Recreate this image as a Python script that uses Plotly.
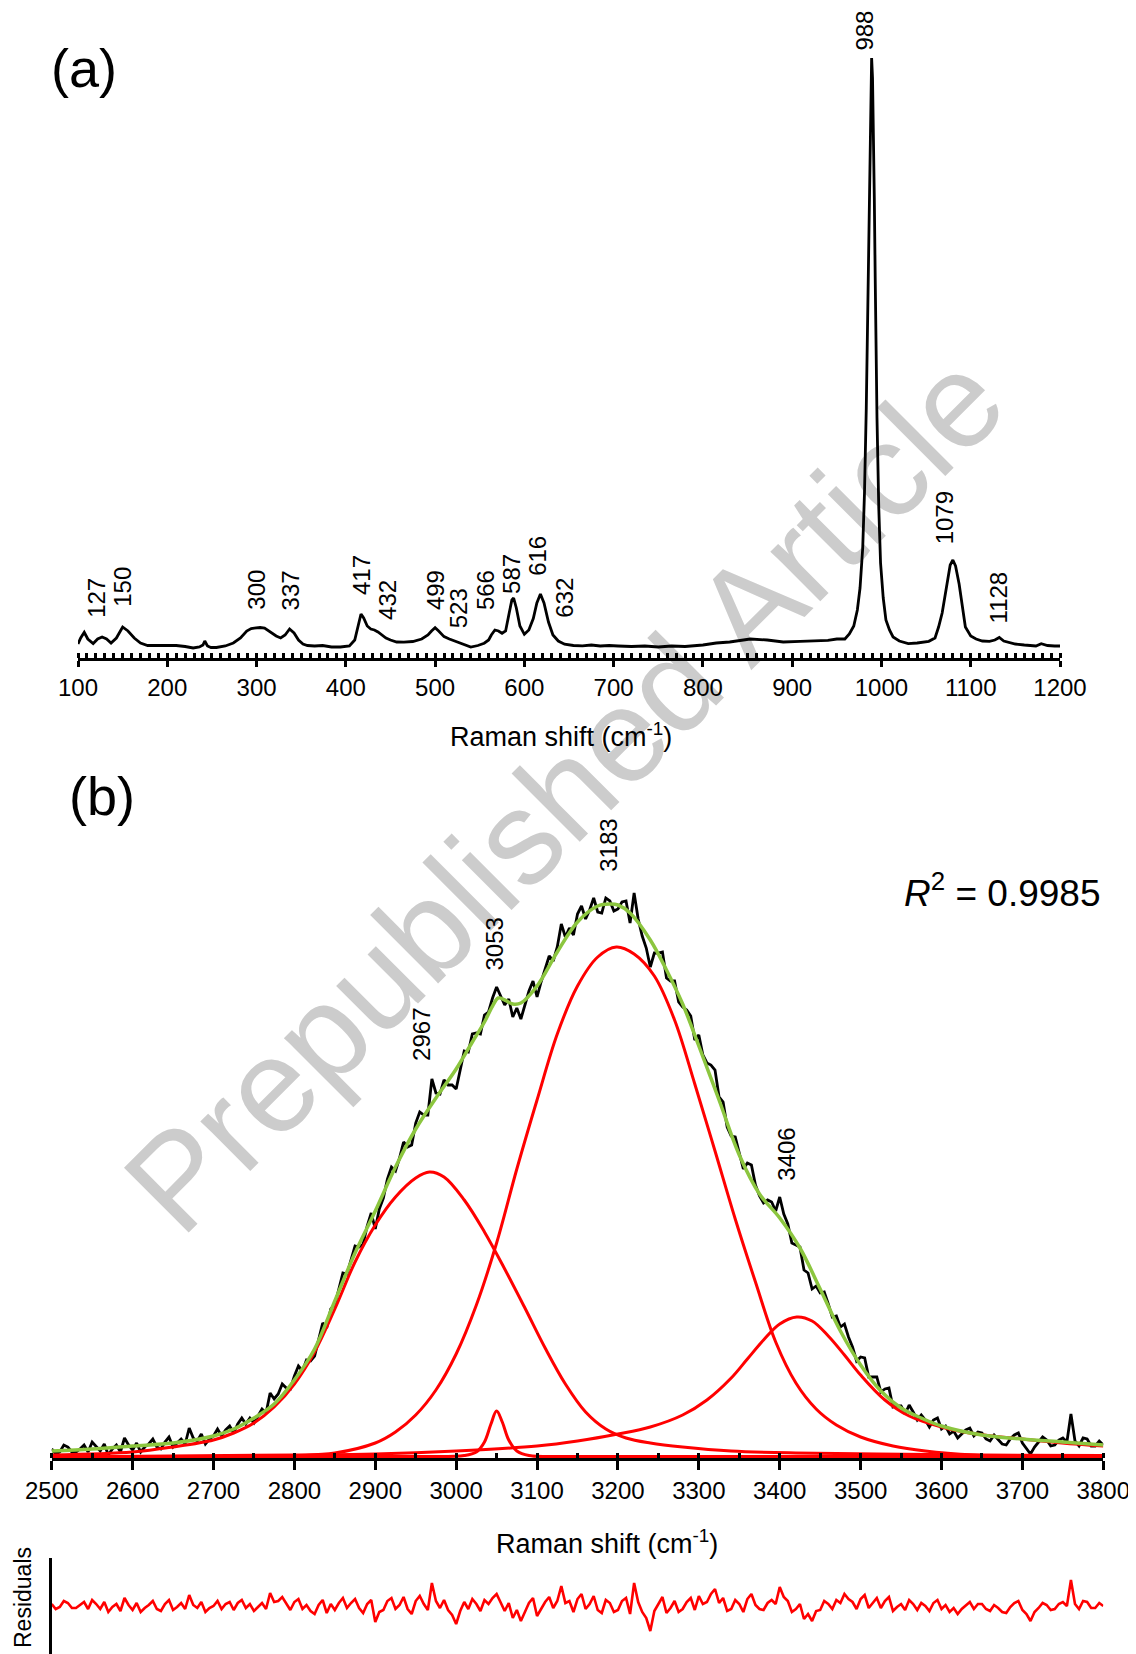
import plotly.graph_objects as go

FONT = "Liberation Sans, Arial, sans-serif"
OFF = 8                      # default page margin of the html body
W, H = 1136 - OFF, 1654 - OFF

# ---------------- Panel (a): low-wavenumber Raman spectrum ----------------
a_shift = [100,103,107,111,117,122,127,132,137,143,150,156,163,170,178,190,200,210,220,229,
           236,240,242,245,249,255,265,274,282,289,294,299,304,309,317,322,327,332,337,342,
           347,352,357,365,374,384,394,404,410,414,417,420,424,428,432,436,440,445,450,457,
           465,475,485,492,496,500,504,510,516,522,530,540,548,555,560,563,567,571,575,579,
           583,586,588,591,595,600,605,610,614,618,622,627,632,638,645,655,665,675,685,695,
           705,720,735,750,765,780,800,815,830,853,872,890,909,925,940,950,959,964,969,973,
           976,979,981,983,984,985,986,987,988,989,990,991,992,993,994,995,997,999,1002,1005,
           1009,1013,1020,1030,1040,1053,1060,1064,1068,1071,1074,1077,1080,1083,1087,1090,1094,1100,1106,1113,
           1121,1127,1132,1137,1143,1150,1160,1173,1179,1186,1194,1200]
a_int = [14,20,25.7,19,14.5,19,21,19,15,20,31,27,20,15,12.5,12.5,12,12.5,11.5,10,
         11,13,17,12,10.5,10.5,12,15,20,27,29.5,30,30.5,30,24.7,22,20,23,29,25,
         18,14,12.5,12,12.5,11,11,12,18,34,44,40,32,29,28,26,23,20,18,16,
         15.8,16.5,19,23,27,30.3,27,21.4,19,17,15,11,12.5,14.8,18,23,28,27,24.7,27,
         45,58,60,50,32,23.7,28,39.5,55,64,55,36,23,17,13.8,12.5,12.2,13,12,12.5,
         12,11.5,12,11,12,11.5,13,15,16,19,18,16,16.7,17,17.6,19,19,24,32,48,
         70,110,165,250,310,380,460,530,580,600,580,530,460,380,300,240,150,95,60,38,
         28,21,17,14.3,15,16.7,20,31,45,60,79,93,98,92,74,55,31,22,19,17,
         16.7,18,20.5,17,15.7,14,13,12,14.3,12.5,12,12]

a_labels = ["127","150","300","337","417","432","499","523","566","587","616","632","988","1079","1128"]
a_label_x = [120,149,299,338,417,446,500,526,556,585,614,644,980,1071,1131]
a_label_y = [38,49,46,46,61,36,46,28,46,62,80,38,605,112,33]

# ---------------- Panel (b): O-H stretching region with fit ----------------
b_shift = list(range(2500, 3801, 5))
b_int = [13,8,10,17,15,10,10,13,17,10,20,15,11,18,7,13,17,10,24,17,
         12,19,10,15,18,23,15,13,20,25,15,19,23,18,34,24,21,28,18,23,
         26,33,26,32,36,29,38,44,38,44,39,46,53,49,69,63,68,78,74,73,
         86,96,91,102,101,106,124,139,134,153,157,174,189,188,202,216,215,218,236,249,
         233,253,264,283,295,291,304,320,315,317,339,350,347,347,383,369,368,382,377,377,
         373,394,411,410,428,429,428,447,450,464,475,466,457,463,445,454,443,457,471,481,
         465,480,494,506,501,515,538,525,534,527,548,556,543,552,564,550,549,564,561,551,
         553,560,561,539,569,543,526,514,495,509,509,510,484,481,481,460,455,452,446,422,
         427,407,399,397,392,365,360,335,326,325,309,293,299,297,277,266,259,262,260,251,
         265,248,238,219,217,215,192,189,173,176,169,170,158,145,146,135,138,125,115,101,
         105,104,85,85,85,70,73,74,55,56,56,48,57,50,42,47,42,35,42,44,
         33,36,28,31,24,28,32,34,26,30,29,23,21,27,23,18,17,23,27,29,
         19,14,8,15,20,25,22,16,17,22,24,20,48,21,16,24,23,16,16,21,
         17]

fit_shift = [2500,2550,2600,2650,2700,2725,2750,2775,2800,2825,2850,2875,2900,2925,2950,2975,3000,3020,3035,3045,
             3052,3060,3070,3080,3100,3125,3150,3175,3190,3200,3215,3240,3260,3280,3300,3325,3350,3375,3400,3425,
             3450,3475,3500,3525,3550,3575,3600,3650,3700,3750,3800]
fit_int = [11,13,16,19,26,33,44,58,82,113,161,209,251,295,333,364,393,420,440,456,
           464,462,458,459,476,510,540,556,558,557,549,522,492,458,416,362,307,268,244,214,
           173,131,97,71,54,44,36,27,23,20,17]

c1_shift = [2500,2600,2650,2700,2725,2750,2775,2800,2825,2850,2875,2900,2925,2950,2967,2985,3010,3035,3060,3085,
            3110,3135,3160,3185,3210,3240,3280,3340,3420,3520,3650,3800]
c1_int = [7,10,15,22,29,39,55,78,110,153,200,237,265,284,290,285,262,230,193,154,
          114,78,50,33,24,19,15,11,9,8,7,6.5]

c2_shift = [2500,2950,3010,3025,3035,3043,3050,3057,3065,3075,3090,3150,3800]
c2_int = [5.5,5.5,6.5,10,20,38,51,40,22,11,6.5,5.5,5.5]

c3_shift = [2500,2700,2800,2850,2900,2925,2950,2975,3000,3025,3050,3075,3100,3125,3150,3175,3198,3220,3245,3270,
            3295,3320,3345,3370,3395,3420,3445,3470,3500,3540,3580,3640,3720,3800]
c3_int = [4,5,6.5,9,19,30,47,72,108,157,219,293,362,428,476,505,515,508,486,442,
          378,311,243,180,120,79,53,37,25,16,11,7,5,4]

c4_shift = [2500,2800,2900,3000,3100,3150,3200,3240,3280,3310,3340,3360,3380,3400,3421,3440,3460,3480,3500,3530,
            3560,3600,3643,3700,3749,3800]
c4_int = [5,7,8,11,16,21,28,35,47,62,84,103,122,138,145,141,126,107,87,62,
          46,35,28,23,19,16]

b_labels = ["2967","3053","3183","3406"]
b_label_x = [2957,3048,3188,3408]
b_label_y = [399,490,588,279]

# ---------------- Residuals ----------------
res_shift = list(range(2500, 3801, 5))
res_val = [2,-3,-1,5,3,-2,-2,1,4,-3,6,2,-3,4,-6,-1,2,-5,8,1,
           -4,3,-6,-2,1,5,-3,-5,2,6,-4,-1,3,-3,11,1,-2,4,-6,-2,
           0,5,-3,2,4,-4,3,6,-2,2,-5,-1,3,-3,13,4,5,9,2,-4,
           4,7,-3,1,-5,-8,1,6,-7,2,-4,3,8,-2,3,7,-2,-7,2,6,
           -16,-6,-4,5,8,-3,1,9,-3,-8,5,10,2,-4,23,5,-2,6,-4,-9,
           -18,-5,4,-3,7,2,-5,6,2,8,12,4,-5,3,-12,-4,-15,-6,3,8,
           -10,-3,4,9,-2,5,20,3,5,-6,7,12,-3,2,10,-4,-7,6,3,-6,
           -4,5,8,-8,23,4,-6,-12,-25,-5,2,9,-7,-2,5,-6,-3,4,8,-4,
           10,2,4,12,17,3,8,-5,-3,6,2,-6,7,12,1,-3,-4,3,6,2,
           19,9,5,-6,-3,2,-13,-8,-15,-5,-4,5,2,-3,6,3,12,7,4,-3,
           7,11,-2,3,8,-2,5,9,-5,-1,2,-4,6,2,-4,3,0,-5,3,6,
           -3,1,-6,-2,-8,-3,1,4,-3,2,2,-3,-5,1,-2,-6,-7,-1,3,5,
           -4,-8,-15,-6,-2,3,1,-4,-3,2,4,0,26,2,-3,5,4,-2,-2,3,
           0]

# ---------------- geometry (page pixels -> paper) ----------------
def px(x):
    return (x - OFF) / W

def py(y):
    return 1 - (y - OFF) / H

a_x0, a_x1 = 78, 1060
a_ybot, a_ytop = 658, 32
b_x0, b_x1 = 51.7, 1103.3
b_ybot, b_ytop = 1458, 858
r_ytop = 1558

fig = go.Figure()

fig.add_trace(go.Scatter(x=a_shift, y=a_int, mode="lines",
                         line=dict(color="black", width=2.8), xaxis="x", yaxis="y",
                         showlegend=False, hoverinfo="skip"))

fig.add_trace(go.Scatter(x=b_shift, y=b_int, mode="lines",
                         line=dict(color="black", width=2.8), xaxis="x2", yaxis="y2",
                         showlegend=False, hoverinfo="skip"))
for cx_, cy_ in [(c1_shift, c1_int), (c2_shift, c2_int), (c3_shift, c3_int), (c4_shift, c4_int)]:
    fig.add_trace(go.Scatter(x=cx_, y=cy_, mode="lines",
                             line=dict(color="#ff0000", width=3, shape="spline", smoothing=1.0),
                             xaxis="x2", yaxis="y2", showlegend=False, hoverinfo="skip"))
fig.add_trace(go.Scatter(x=fit_shift, y=fit_int, mode="lines",
                         line=dict(color="#8cc63f", width=3.5, shape="spline", smoothing=1.0),
                         xaxis="x2", yaxis="y2", showlegend=False, hoverinfo="skip"))

fig.add_trace(go.Scatter(x=res_shift, y=res_val, mode="lines",
                         line=dict(color="#ff0000", width=2.6), xaxis="x4", yaxis="y4",
                         showlegend=False, hoverinfo="skip"))

tickfont = dict(family=FONT, size=24, color="black")

fig.update_layout(
    width=W, height=H,
    margin=dict(l=0, r=0, t=0, b=0, autoexpand=False),
    paper_bgcolor="white", plot_bgcolor="white",
    font=dict(family=FONT, color="black"),
    xaxis=dict(domain=[px(a_x0), px(a_x1)], range=[100, 1200], anchor="y", automargin=False,
               tickmode="linear", tick0=100, dtick=100, ticks="outside", ticklen=6, tickwidth=3,
               tickcolor="black", showline=True, linewidth=3, linecolor="black",
               showgrid=False, zeroline=False, tickfont=tickfont,
               minor=dict(dtick=10, tick0=100, ticks="inside", ticklen=5, tickwidth=2.5,
                          tickcolor="black", showgrid=False)),
    xaxis3=dict(overlaying="x", anchor="y", range=[100, 1200], tickmode="linear", tick0=100, dtick=100,
                ticks="inside", ticklen=6, tickwidth=3, tickcolor="black", showticklabels=False,
                showline=False, showgrid=False, zeroline=False, automargin=False),
    yaxis=dict(domain=[py(a_ybot), py(a_ytop)], range=[0, a_ybot - a_ytop], anchor="x",
               visible=False, automargin=False),
    xaxis2=dict(domain=[px(b_x0), px(b_x1)], range=[2500, 3800], anchor="y2", automargin=False,
                tickmode="linear", tick0=2500, dtick=100, ticks="outside", ticklen=9, tickwidth=3,
                tickcolor="black", showline=True, linewidth=3, linecolor="black",
                showgrid=False, zeroline=False, tickfont=tickfont,
                minor=dict(dtick=50, tick0=2500, ticks="inside", ticklen=5, tickwidth=2.5,
                           tickcolor="black", showgrid=False)),
    yaxis2=dict(domain=[py(b_ybot), py(b_ytop)], range=[4, 4 + b_ybot - b_ytop], anchor="x2",
                visible=False, automargin=False),
    xaxis4=dict(domain=[px(b_x0), px(b_x1)], range=[2500, 3800], anchor="y4",
                visible=False, automargin=False),
    yaxis4=dict(domain=[0, py(r_ytop)], range=[-48, 48], anchor="x4", automargin=False,
                showline=True, linewidth=2.5, linecolor="black", showgrid=False, zeroline=False,
                tickmode="array", tickvals=[47], ticks="inside", ticklen=5,
                tickwidth=2.5, tickcolor="black", showticklabels=False),
)

ann = []
for t, x, y in zip(a_labels, a_label_x, a_label_y):
    ann.append(dict(text=t, x=x, y=y, xref="x", yref="y", textangle=-90, showarrow=False,
                    xanchor="center", yanchor="bottom", font=dict(family=FONT, size=24, color="black")))
for t, x, y in zip(b_labels, b_label_x, b_label_y):
    ann.append(dict(text=t, x=x, y=y, xref="x2", yref="y2", textangle=-90, showarrow=False,
                    xanchor="center", yanchor="bottom", font=dict(family=FONT, size=24, color="black")))

ann += [
    dict(text="(a)", x=px(84), y=py(68), xref="paper", yref="paper", showarrow=False,
         xanchor="center", yanchor="middle", font=dict(family=FONT, size=54, color="black")),
    dict(text="(b)", x=px(102), y=py(796), xref="paper", yref="paper", showarrow=False,
         xanchor="center", yanchor="middle", font=dict(family=FONT, size=54, color="black")),
    dict(text="Raman shift (cm<sup>-1</sup>)", x=px(561), y=py(735), xref="paper", yref="paper",
         showarrow=False, xanchor="center", yanchor="middle", font=dict(family=FONT, size=27, color="black")),
    dict(text="Raman shift (cm<sup>-1</sup>)", x=px(607), y=py(1542), xref="paper", yref="paper",
         showarrow=False, xanchor="center", yanchor="middle", font=dict(family=FONT, size=27, color="black")),
    dict(text="<i>R</i><sup>2</sup> = 0.9985", x=px(1102), y=py(890), xref="paper", yref="paper",
         showarrow=False, xanchor="right", yanchor="middle", font=dict(family=FONT, size=37, color="black")),
    dict(text="Residuals", x=px(23), y=py(1598), xref="paper", yref="paper", textangle=-90,
         showarrow=False, xanchor="center", yanchor="middle", font=dict(family=FONT, size=23, color="black")),
]
fig.update_layout(annotations=ann)

# watermark behind the data
wx, wy, d = 555, 783, 500
fig.add_shape(type="line", xref="paper", yref="paper",
              x0=px(wx - d), y0=py(wy + d), x1=px(wx + d), y1=py(wy - d),
              line=dict(color="rgba(0,0,0,0)", width=1), layer="below",
              label=dict(text="Prepublished Article", textposition="middle", yanchor="middle",
                         font=dict(family=FONT, size=133, color="#cccccc")))

fig.write_html("out.html")
